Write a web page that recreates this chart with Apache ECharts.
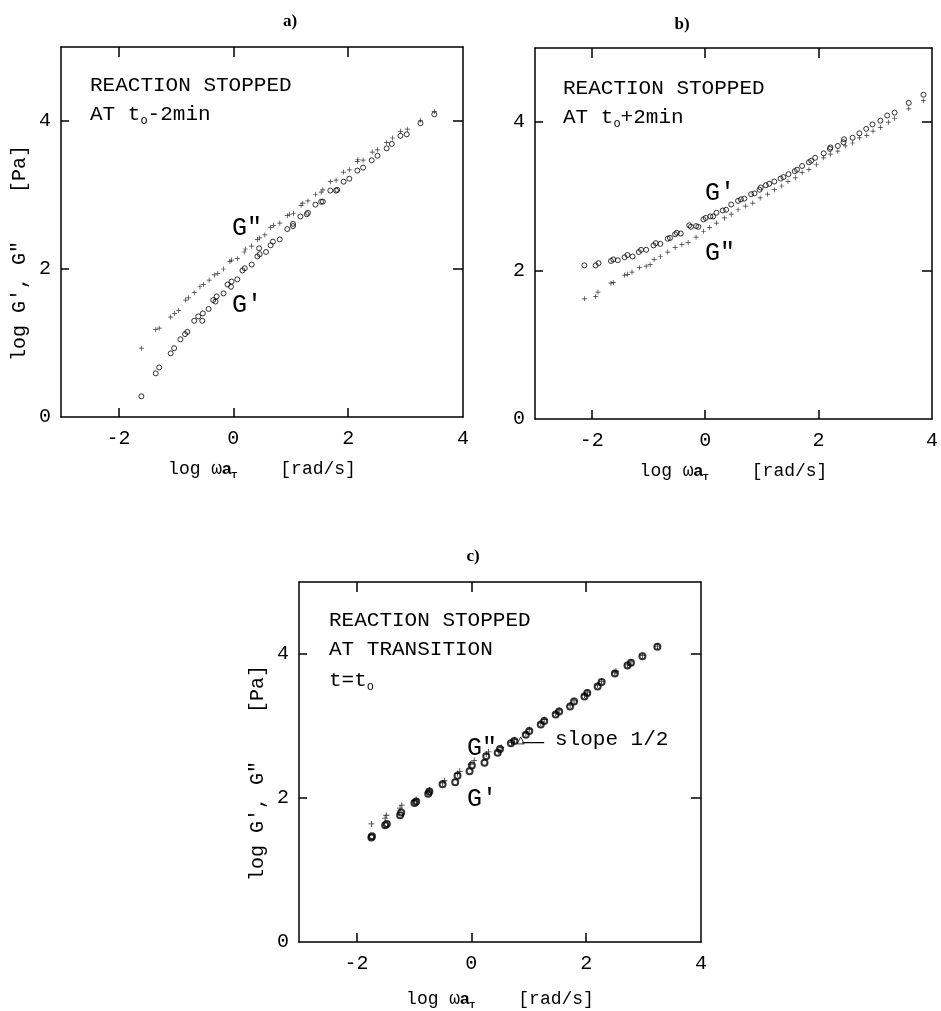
<!DOCTYPE html>
<html><head><meta charset="utf-8">
<script src="https://cdn.jsdelivr.net/npm/echarts@6/dist/echarts.min.js"></script>
<style>html,body{margin:0;padding:0;background:#fff}#c{width:941px;height:1011px}</style>
</head><body><div id="c"></div>
<script>
// ---- tick values / labels ----
const xTickValues = [-2, 0, 2];
const xLabelValues = [-2, 0, 2, 4];
const yTickValues = [2, 4];
const yLabelValues = [0, 2, 4];

// ---- panel a: reaction stopped at t0-2min ----
const aGp = [[-1.60,0.28],[-1.35,0.59],[-1.29,0.67],[-1.09,0.86],[-1.03,0.93],[-0.92,1.05],[-0.84,1.12],[-0.80,1.15],[-0.68,1.30],[-0.61,1.36],[-0.54,1.30],[-0.53,1.40],[-0.43,1.46],[-0.35,1.58],[-0.29,1.63],[-0.31,1.56],[-0.17,1.67],[-0.10,1.79],[-0.03,1.83],[-0.04,1.76],[0.07,1.86],[0.16,1.98],[0.20,2.01],[0.32,2.06],[0.42,2.17],[0.46,2.20],[0.45,2.28],[0.57,2.23],[0.65,2.32],[0.69,2.37],[0.81,2.40],[0.94,2.54],[1.04,2.58],[1.04,2.61],[1.17,2.71],[1.28,2.74],[1.30,2.76],[1.43,2.87],[1.53,2.91],[1.56,2.91],[1.69,3.06],[1.79,3.06],[1.81,3.07],[1.92,3.18],[2.02,3.22],[2.16,3.33],[2.26,3.37],[2.41,3.47],[2.51,3.53],[2.67,3.63],[2.76,3.69],[2.91,3.80],[3.02,3.82],[3.26,3.97],[3.50,4.09]];
const aGpp = [[-1.60,0.93],[-1.35,1.18],[-1.29,1.20],[-1.09,1.35],[-1.02,1.40],[-0.95,1.44],[-0.83,1.58],[-0.78,1.61],[-0.68,1.68],[-0.58,1.76],[-0.52,1.79],[-0.42,1.85],[-0.33,1.92],[-0.27,1.94],[-0.17,2.00],[-0.06,2.10],[-0.03,2.12],[0.07,2.14],[0.19,2.23],[0.21,2.27],[0.32,2.31],[0.42,2.40],[0.46,2.42],[0.55,2.46],[0.65,2.56],[0.70,2.59],[0.81,2.62],[0.94,2.72],[0.98,2.74],[1.05,2.75],[1.18,2.86],[1.21,2.89],[1.30,2.92],[1.43,3.01],[1.53,3.04],[1.56,3.07],[1.69,3.18],[1.79,3.20],[1.92,3.31],[2.02,3.34],[2.16,3.45],[2.17,3.48],[2.26,3.47],[2.42,3.58],[2.51,3.61],[2.67,3.71],[2.77,3.77],[2.91,3.86],[3.03,3.89],[3.26,4.01],[3.50,4.13]];

// ---- panel b: reaction stopped at t0+2min ----
const bGp = [[-2.13,2.07],[-1.93,2.07],[-1.88,2.10],[-1.66,2.13],[-1.62,2.15],[-1.54,2.14],[-1.42,2.18],[-1.37,2.21],[-1.28,2.19],[-1.17,2.25],[-1.13,2.28],[-1.04,2.28],[-0.91,2.34],[-0.87,2.37],[-0.79,2.36],[-0.66,2.43],[-0.62,2.44],[-0.53,2.49],[-0.50,2.51],[-0.43,2.50],[-0.28,2.61],[-0.25,2.59],[-0.16,2.60],[-0.12,2.59],[-0.03,2.69],[0.01,2.71],[0.09,2.73],[0.14,2.73],[0.20,2.78],[0.31,2.81],[0.37,2.82],[0.46,2.89],[0.58,2.94],[0.63,2.96],[0.69,2.97],[0.81,3.03],[0.87,3.04],[0.96,3.09],[0.98,3.12],[1.07,3.15],[1.13,3.17],[1.22,3.20],[1.33,3.24],[1.38,3.26],[1.47,3.30],[1.58,3.34],[1.62,3.36],[1.71,3.41],[1.83,3.46],[1.87,3.48],[1.94,3.52],[2.09,3.58],[2.20,3.64],[2.21,3.66],[2.34,3.68],[2.44,3.73],[2.45,3.77],[2.60,3.79],[2.72,3.85],[2.84,3.91],[2.95,3.97],[3.09,4.02],[3.21,4.09],[3.34,4.13],[3.59,4.26],[3.85,4.37]];
const bGpp = [[-2.13,1.62],[-1.93,1.65],[-1.89,1.71],[-1.66,1.83],[-1.62,1.84],[-1.42,1.94],[-1.37,1.95],[-1.29,1.98],[-1.16,2.04],[-1.04,2.06],[-0.97,2.08],[-0.90,2.15],[-0.79,2.19],[-0.66,2.25],[-0.53,2.31],[-0.41,2.35],[-0.30,2.38],[-0.16,2.45],[-0.03,2.53],[0.08,2.58],[0.20,2.64],[0.34,2.71],[0.46,2.76],[0.58,2.82],[0.71,2.87],[0.84,2.91],[0.97,2.98],[1.10,3.03],[1.22,3.09],[1.35,3.14],[1.46,3.20],[1.59,3.25],[1.71,3.32],[1.83,3.36],[1.96,3.43],[2.09,3.52],[2.21,3.57],[2.34,3.61],[2.47,3.68],[2.60,3.72],[2.72,3.79],[2.85,3.82],[2.96,3.88],[3.09,3.93],[3.23,4.00],[3.34,4.05],[3.59,4.18],[3.85,4.29]];

// ---- panel c: reaction stopped at transition ----
const cGp = [[-1.74,1.45],[-1.73,1.47],[-1.50,1.62],[-1.47,1.64],[-1.24,1.76],[-1.22,1.80],[-0.99,1.93],[-0.96,1.95],[-0.75,2.06],[-0.73,2.09],[-0.50,2.19],[-0.28,2.22],[-0.24,2.31],[-0.03,2.37],[0.01,2.45],[0.23,2.49],[0.26,2.58],[0.46,2.63],[0.50,2.68],[0.69,2.76],[0.75,2.79],[0.95,2.88],[1.01,2.93],[1.21,3.02],[1.27,3.07],[1.47,3.16],[1.53,3.20],[1.72,3.27],[1.79,3.34],[1.97,3.41],[2.02,3.46],[2.20,3.55],[2.27,3.61],[2.50,3.73],[2.72,3.84],[2.78,3.88],[2.98,3.97],[3.24,4.10]];
const cGpp = [[-1.74,1.64],[-1.50,1.72],[-1.48,1.76],[-1.24,1.86],[-1.21,1.90],[-0.99,1.96],[-0.96,1.98],[-0.75,2.08],[-0.73,2.11],[-0.50,2.21],[-0.47,2.24],[-0.24,2.34],[-0.20,2.37],[-0.01,2.47],[0.05,2.52],[0.26,2.61],[0.30,2.64],[0.48,2.65],[0.52,2.70],[0.70,2.77],[0.75,2.81],[0.95,2.90],[1.01,2.95],[1.21,3.04],[1.27,3.09],[1.47,3.18],[1.53,3.22],[1.72,3.29],[1.79,3.35],[1.97,3.43],[2.02,3.47],[2.20,3.57],[2.27,3.62],[2.50,3.74],[2.52,3.76],[2.72,3.85],[2.78,3.89],[2.98,3.98],[3.24,4.11]];
const cSlopeLine = [[0.89,2.77],[1.27,2.77]];
const cSlopeMark = [0.86,2.80];

const MONO = 'Liberation Mono';
const K = '#000';
const CROSS = 'path://M0,4.3H10V5.7H0Z M4.3,0H5.7V10H4.3Z';

const grids = [
  {left:61, top:47, width:402, height:370},
  {left:535, top:48, width:401, height:371},
  {left:299, top:582, width:402, height:366}
];

const xName = '{n|log ω}{b|a}{s|T}{n|    [rad/s]}';
const xRich = {
  n:{fontFamily:MONO, fontSize:18, color:K, lineHeight:22},
  b:{fontFamily:'Liberation Sans', fontWeight:'bold', fontSize:17, color:K, lineHeight:22},
  s:{fontFamily:'Liberation Sans', fontWeight:'bold', fontSize:9, color:K, lineHeight:22, verticalAlign:'bottom'}
};

const xAxes = [], yAxes = [];
grids.forEach((g, i) => {
  const lineStyle = {color:K, width:1.5};
  xAxes.push({type:'value', gridIndex:i, position:'bottom', min:-3, max:4, interval:1,
    axisLine:{show:true, onZero:false, lineStyle},
    axisTick:{show:true, inside:true, length:9, customValues:xTickValues, lineStyle},
    axisLabel:{show:true, customValues:xLabelValues, margin:12, fontFamily:MONO, fontSize:20, color:K, showMaxLabel:true, showMinLabel:true},
    splitLine:{show:false},
    name:xName, nameLocation:'middle', nameGap:i===2?46:41,
    nameTextStyle:{rich:xRich}
  });
  xAxes.push({type:'value', gridIndex:i, position:'top', min:-3, max:4, interval:1,
    axisLine:{show:true, onZero:false, lineStyle},
    axisTick:{show:true, inside:true, length:10, customValues:xTickValues, lineStyle},
    axisLabel:{show:false}, splitLine:{show:false}
  });
  yAxes.push({type:'value', gridIndex:i, position:'left', min:0, max:5, interval:1,
    axisLine:{show:true, onZero:false, lineStyle},
    axisTick:{show:true, inside:true, length:8, customValues:yTickValues, lineStyle},
    axisLabel:{show:true, customValues:yLabelValues, margin:10, fontFamily:MONO, fontSize:20, color:K, showMinLabel:true},
    splitLine:{show:false}
  });
  yAxes.push({type:'value', gridIndex:i, position:'right', min:0, max:5, interval:1,
    axisLine:{show:true, onZero:false, lineStyle},
    axisTick:{show:true, inside:true, length:10, customValues:yTickValues, lineStyle},
    axisLabel:{show:false}, splitLine:{show:false}
  });
});

function circles(data, i, size, bw) {
  return {type:'scatter', xAxisIndex:2*i, yAxisIndex:2*i, data, symbol:'circle', symbolSize:size,
    itemStyle:{color:'rgba(255,255,255,0)', borderColor:K, borderWidth:bw}, silent:true};
}
function crosses(data, i, size) {
  return {type:'scatter', xAxisIndex:2*i, yAxisIndex:2*i, data, symbol:CROSS, symbolSize:size,
    itemStyle:{color:K, borderWidth:0}, silent:true};
}

const series = [
  circles(aGp, 0, 5, 1), crosses(aGpp, 0, 5),
  circles(bGp, 1, 5, 1), crosses(bGpp, 1, 5),
  circles(cGp, 2, 6, 2), crosses(cGpp, 2, 6),
  {type:'line', xAxisIndex:4, yAxisIndex:4, data:cSlopeLine, symbol:'none', silent:true,
    lineStyle:{color:K, width:1.2}},
  {type:'scatter', xAxisIndex:4, yAxisIndex:4, data:[cSlopeMark], symbol:'triangle', symbolSize:7, silent:true,
    itemStyle:{color:'rgba(255,255,255,0)', borderColor:K, borderWidth:1}}
];

const txtRich = {
  n:{fontFamily:MONO, fontSize:21, fill:K, lineHeight:26},
  s:{fontFamily:MONO, fontSize:12, fill:K, lineHeight:26, verticalAlign:'bottom'}
};
function T(x, y, text, size, extra) {
  return Object.assign({type:'text', x, y, silent:true,
    style:{text, fontFamily:MONO, fontSize:size, fill:K, align:'left', verticalAlign:'middle', rich:txtRich}}, extra||{});
}
function ttl(x, y, text) {
  return {type:'text', x, y, silent:true, style:{text, fontFamily:'Liberation Serif', fontWeight:'bold', fontSize:17, fill:K, align:'center', verticalAlign:'middle'}};
}
function ytitle(x, y) {
  return {type:'text', x, y, rotation:Math.PI/2, silent:true,
    style:{text:'log G\', G"    [Pa]', fontFamily:MONO, fontSize:20, fill:K, align:'center', verticalAlign:'middle'}};
}

const graphic = [
  ttl(290, 22, 'a)'), ttl(682, 25, 'b)'), ttl(473, 557, 'c)'),
  // panel a
  T(90, 85, '{n|REACTION STOPPED}', 21),
  T(90, 114, '{n|AT t}{s|o}{n|-2min}', 21),
  T(232, 228, 'G"', 25),
  T(232, 305, "G'", 25),
  ytitle(20, 253),
  // panel b
  T(563, 88, '{n|REACTION STOPPED}', 21),
  T(563, 117, '{n|AT t}{s|o}{n|+2min}', 21),
  T(705, 193, "G'", 25),
  T(705, 253, 'G"', 25),
  // panel c
  T(329, 620, '{n|REACTION STOPPED}', 21),
  T(329, 649, '{n|AT TRANSITION}', 21),
  T(329, 680, '{n|t=t}{s|o}', 21),
  T(467, 748, 'G"', 25),
  T(467, 799, "G'", 25),
  T(555, 739, 'slope 1/2', 21),
  ytitle(258, 773)
];

const chart = echarts.init(document.getElementById('c'), null, {renderer:'canvas'});
chart.setOption({
  animation:false,
  backgroundColor:'#fff',
  grid:grids,
  xAxis:xAxes,
  yAxis:yAxes,
  series,
  graphic
});
</script>
</body></html>
